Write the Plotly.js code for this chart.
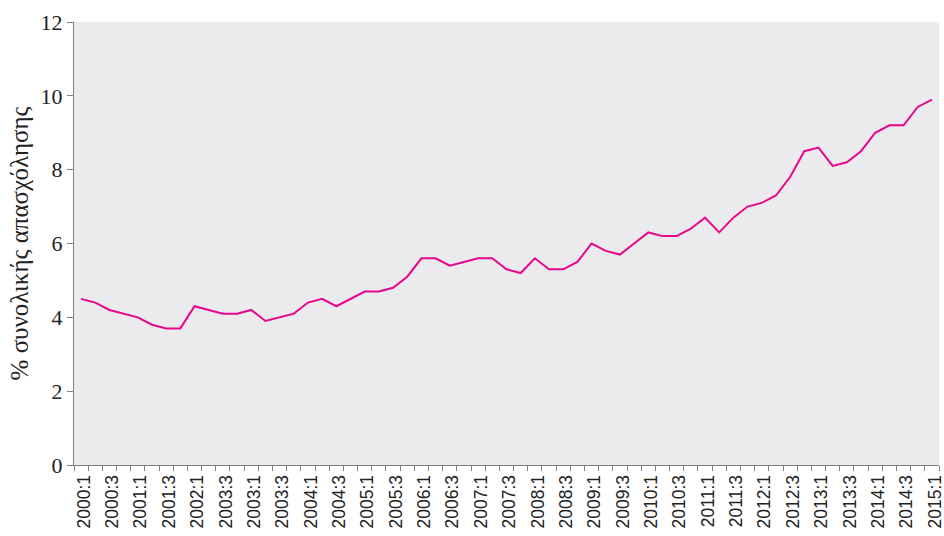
<!DOCTYPE html>
<html>
<head>
<meta charset="utf-8">
<script src="https://cdn.plot.ly/plotly-3.0.1.min.js"></script>
<style>html,body{margin:0;padding:0;background:#fff;}#chart{width:944px;height:536px;}</style>
</head>
<body>
<div id="chart"></div>
<script>
// Quarters 2000:1 .. 2015:1
var years = [2000,2001,2002,2003,2004,2005,2006,2007,2008,2009,2010,2011,2012,2013,2014,2015];
var quarters = [];
years.forEach(function(y){ [1,2,3,4].forEach(function(q){ if (y < 2015 || q === 1) quarters.push(y + ':' + q); }); });

// % of total employment
var share = [
  4.5, 4.4, 4.2, 4.1, 4.0, 3.8, 3.7, 3.7,
  4.3, 4.2, 4.1, 4.1, 4.2, 3.9, 4.0, 4.1,
  4.4, 4.5, 4.3, 4.5, 4.7, 4.7, 4.8, 5.1,
  5.6, 5.6, 5.4, 5.5, 5.6, 5.6, 5.3, 5.2,
  5.6, 5.3, 5.3, 5.5, 6.0, 5.8, 5.7, 6.0,
  6.3, 6.2, 6.2, 6.4, 6.7, 6.3, 6.7, 7.0,
  7.1, 7.3, 7.8, 8.5, 8.6, 8.1, 8.2, 8.5,
  9.0, 9.2, 9.2, 9.7, 9.9
];

// tick labels as printed (every second quarter)
var tickLabels = ['2000:1','2000:3','2001:1','2001:3','2002:1','2003:3','2003:1','2003:3',
  '2004:1','2004:3','2005:1','2005:3','2006:1','2006:3','2007:1','2007:3','2008:1','2008:3',
  '2009:1','2009:3','2010:1','2010:3','2011:1','2011:3','2012:1','2012:3','2013:1','2013:3',
  '2014:1','2014:3','2015:1'];

var idx = quarters.map(function(q,i){ return i; });
var tickVals = tickLabels.map(function(t,i){ return i*2; });

var trace = {
  x: idx, y: share, type: 'scatter', mode: 'lines',
  line: {color: '#E8068A', width: 2},
  text: quarters, hoverinfo: 'text+y'
};

var layout = {
  width: 944, height: 536,
  margin: {l: 74, r: 5, t: 22, b: 71},
  paper_bgcolor: '#ffffff',
  plot_bgcolor: '#EBEBEE',
  showlegend: false,
  xaxis: {
    range: [-0.5, quarters.length - 0.5],
    tickmode: 'array', tickvals: tickVals, ticktext: tickLabels,
    tickangle: -90, ticks: '', ticklabelshift: 3, ticklabelstandoff: 2,
    ticklabeloverflow: 'allow',
    tickfont: {family: 'Liberation Sans, Arial, sans-serif', size: 17.5, color: '#222'},
    showgrid: false, zeroline: false,
    showline: true, linecolor: '#7f7f7f', linewidth: 1,
    minor: {tick0: -0.5, dtick: 1, ticks: 'outside', ticklen: 5, tickcolor: '#7f7f7f', tickwidth: 1, showgrid: false}
  },
  yaxis: {
    range: [0, 12], tickmode: 'array', tickvals: [0,2,4,6,8,10,12],
    ticks: 'outside', ticklen: 6, tickcolor: '#7f7f7f',
    tickfont: {family: 'Liberation Serif, Times New Roman, serif', size: 22, color: '#222'},
    showgrid: false, zeroline: false,
    showline: true, linecolor: '#7f7f7f', linewidth: 1,
    title: {text: '% συνολικής απασχόλησης', font: {family: 'Liberation Serif, Times New Roman, serif', size: 25, color: '#222'}, standoff: 4}
  }
};

Plotly.newPlot('chart', [trace], layout, {displayModeBar: false, staticPlot: true});
</script>
</body>
</html>
